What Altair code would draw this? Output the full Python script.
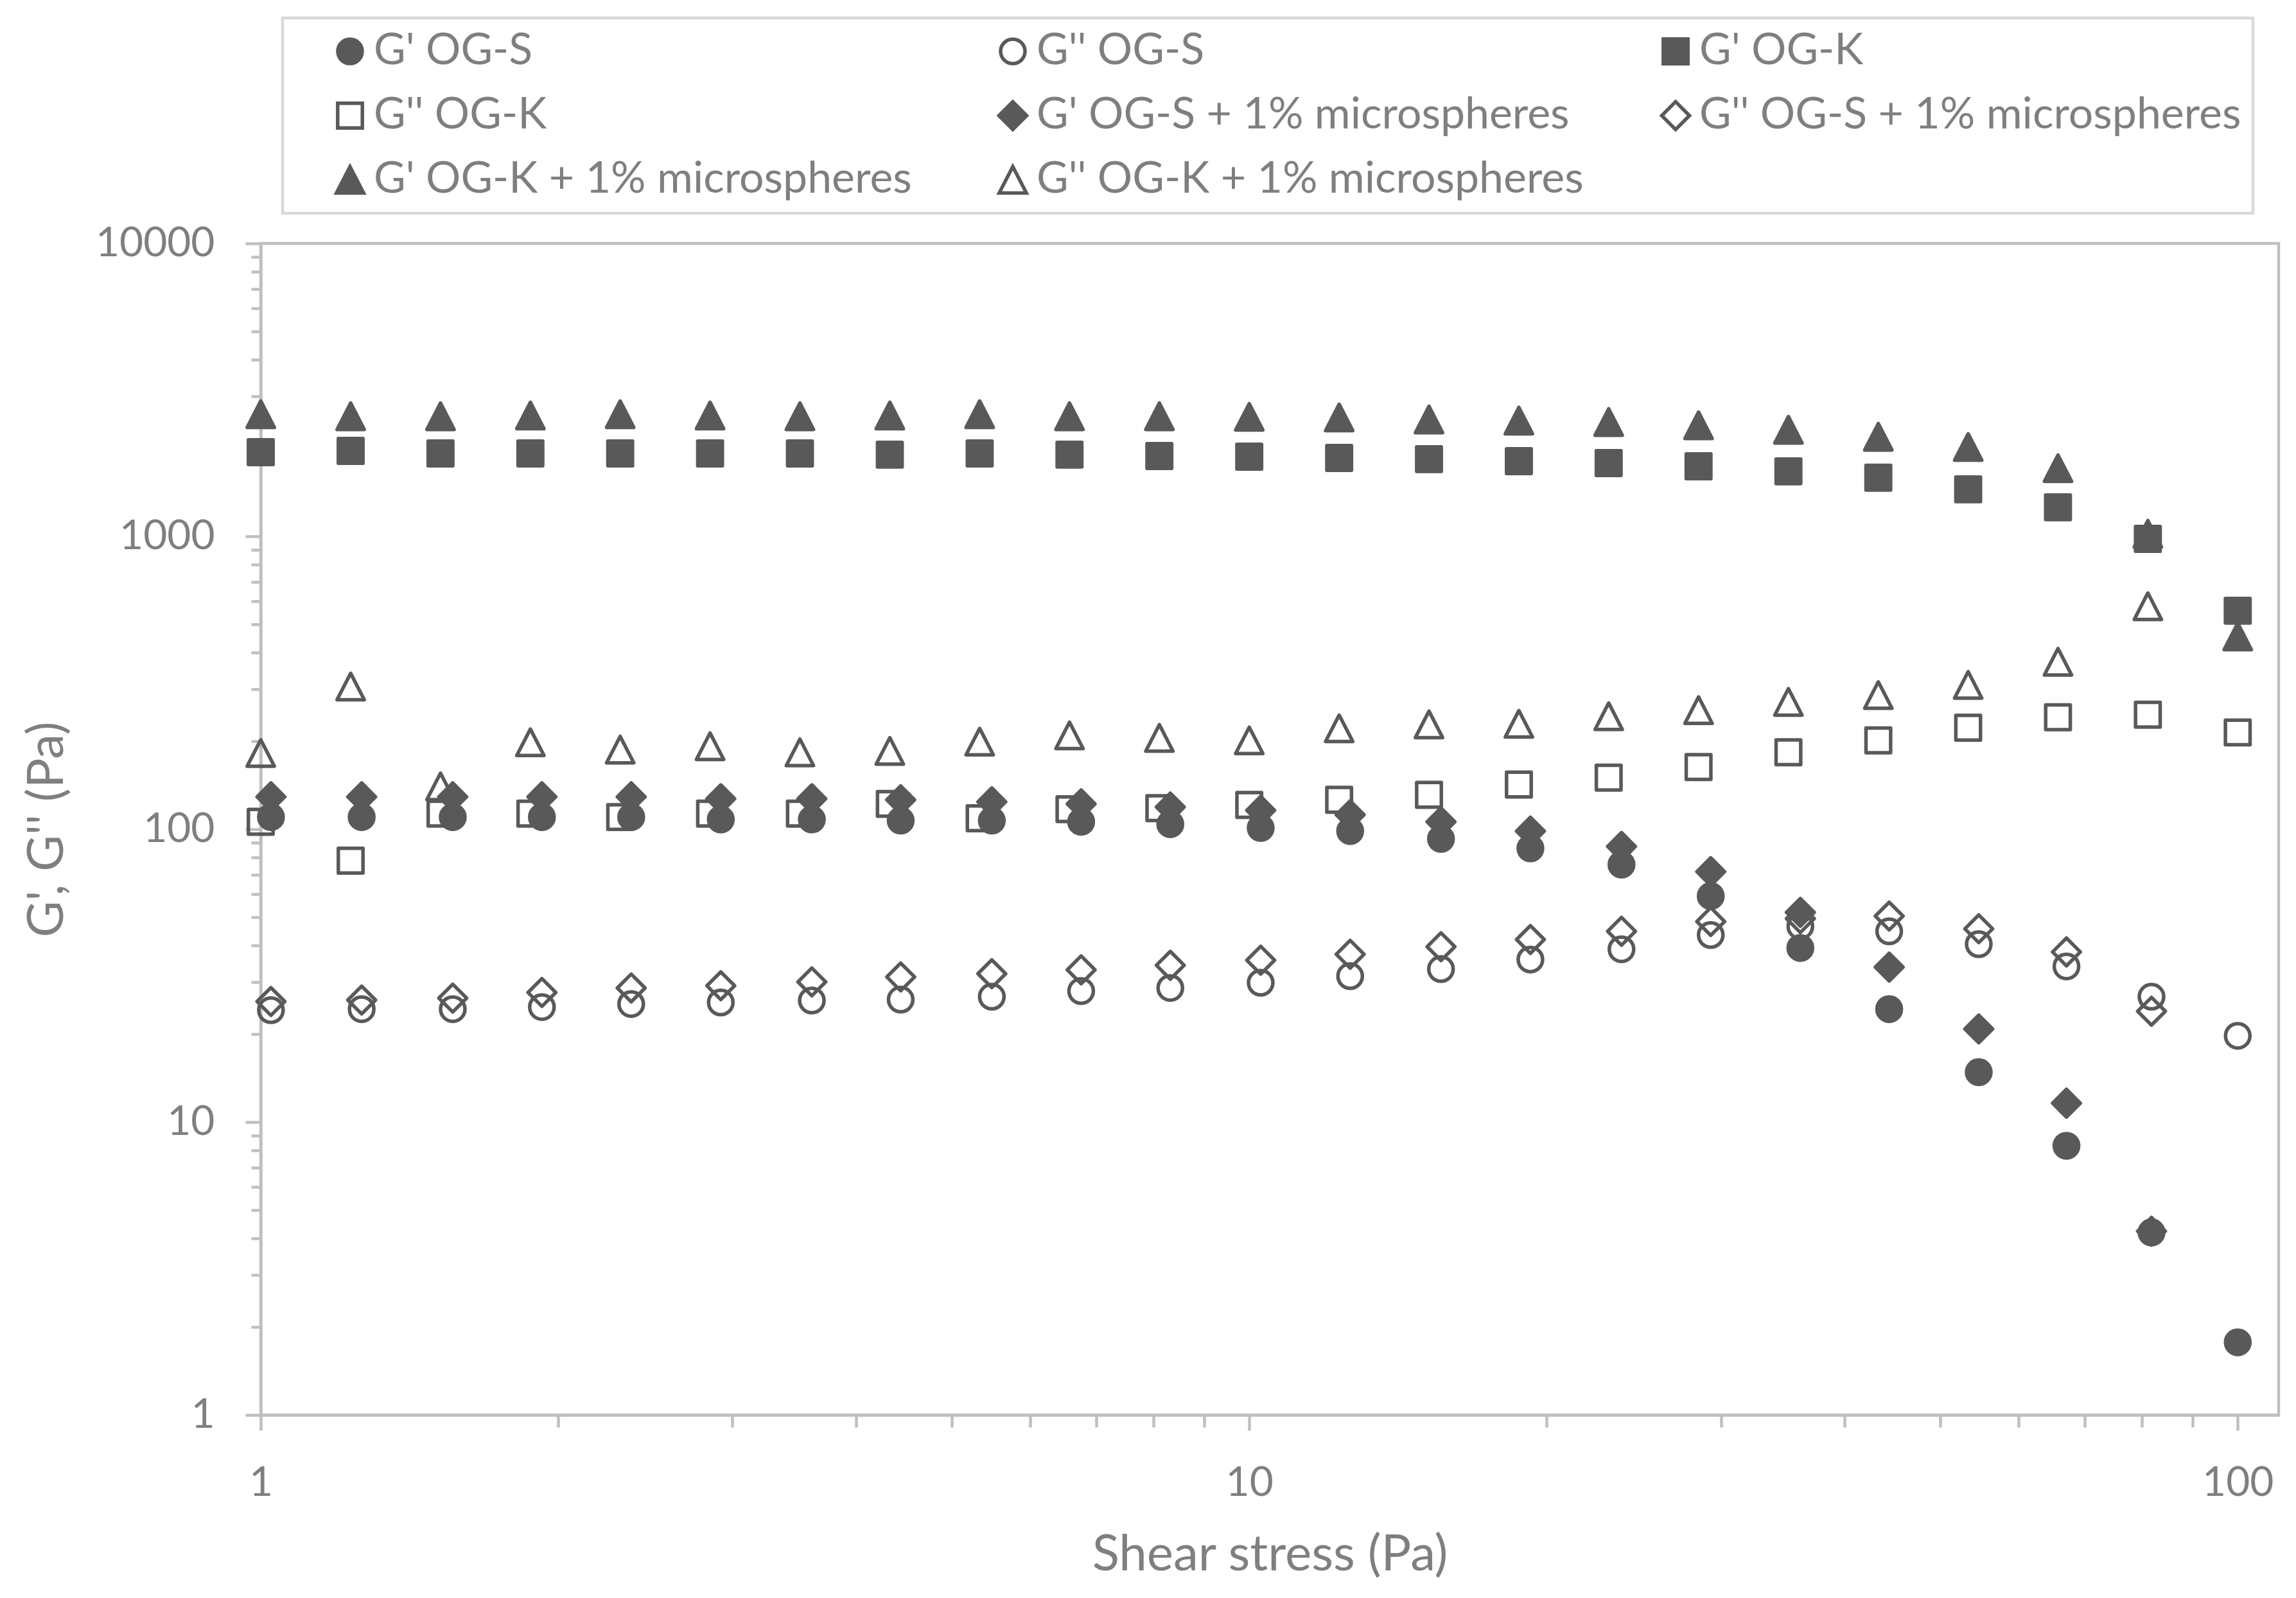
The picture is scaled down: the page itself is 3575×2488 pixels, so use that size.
import altair as alt
import pandas as pd

# ---------------- data ----------------
series_names = [
    "G' OG-S", "G'' OG-S", "G' OG-K", "G'' OG-K",
    "G' OG-S + 1% microspheres", "G'' OG-S + 1% microspheres",
    "G' OG-K + 1% microspheres", "G'' OG-K + 1% microspheres",
]

# shear stress values (Pa)
stress_k = [1, 1.233, 1.52, 1.874, 2.31, 2.848, 3.511, 4.329, 5.337, 6.579, 8.111, 10,
            12.33, 15.2, 18.74, 23.1, 28.48, 35.11, 43.29, 53.37, 65.79, 81.11, 100]
stress_s = [1.024, 1.265, 1.564, 1.925, 2.37, 2.92, 3.61, 4.44, 5.49, 6.76, 8.32, 10.27,
            12.65, 15.63, 19.25, 23.8, 29.3, 36.1, 44.4, 54.7, 67.1, 81.8, 100]

g1_og_s = [110, 110, 110, 110, 110, 108, 108, 107, 107, 106, 104, 101,
           98.5, 92.7, 86, 75.7, 59.1, 39.3, 24.3, 14.8, 8.3, 4.2, 1.77]
g2_og_s = [24.1, 24.3, 24.3, 24.7, 25.3, 25.6, 26.0, 26.2, 26.8, 28.0, 28.7, 29.9,
           31.5, 33.3, 35.9, 38.9, 43.5, 46.6, 44.8, 40.5, 34.0, 26.8, 19.7]
g1_og_k = [1937, 1958, 1918, 1918, 1918, 1918, 1918, 1900, 1918, 1900, 1880, 1871,
           1852, 1834, 1806, 1778, 1734, 1666, 1585, 1447, 1256, 980, 557]
g2_og_k = [106, 78.1, 113, 113, 110, 113, 113, 122, 109, 117, 118, 121,
           126, 131, 142, 150, 163, 183, 201, 222, 241, 246, 214]
g1_og_s_mic = [129, 129, 129, 129, 129, 127, 127, 126, 124, 122, 119, 116,
               112, 106, 98.5, 87.3, 71.6, 52.0, 33.8, 20.8, 11.6, 4.24]
g2_og_s_mic = [25.8, 26.1, 26.5, 27.7, 28.7, 29.2, 30.1, 31.3, 32.1, 33.1, 34.3, 35.7,
               37.4, 39.7, 42.0, 44.8, 48.4, 49.5, 50.5, 45.7, 38.1, 23.9]
g1_og_k_mic = [2612, 2570, 2570, 2585, 2612, 2585, 2570, 2585, 2612, 2570, 2570, 2558,
               2546, 2506, 2484, 2456, 2393, 2311, 2187, 2018, 1708, 1020, 455]
g2_og_k_mic = [182, 307, 140, 198, 187, 192, 183, 185, 199, 209, 205, 201,
               221, 228, 229, 243, 255, 272, 287, 311, 373, 577]

series_x = [stress_s, stress_s, stress_k, stress_k, stress_s, stress_s, stress_k, stress_k]
series_y = [g1_og_s, g2_og_s, g1_og_k, g2_og_k, g1_og_s_mic, g2_og_s_mic, g1_og_k_mic, g2_og_k_mic]

x_ticks = [1, 2, 3, 4, 5, 6, 7, 8, 9, 10, 20, 30, 40, 50, 60, 70, 80, 90, 100]
y_ticks = [1, 2, 3, 4, 5, 6, 7, 8, 9,
           10, 20, 30, 40, 50, 60, 70, 80, 90,
           100, 200, 300, 400, 500, 600, 700, 800, 900,
           1000, 2000, 3000, 4000, 5000, 6000, 7000, 8000, 9000, 10000]

rows = []
for name, xs, ys in zip(series_names, series_x, series_y):
    for xv, yv in zip(xs, ys):
        rows.append({"series": name, "stress": xv, "modulus": yv})
df = pd.DataFrame(rows)

# ---------------- styles ----------------
DARK = "#595959"
TEXT = "#7F7F7F"
AXIS = "#BFBFBF"
FONT = "Lato"
SW = 5.5

circle = "M0.95,0A0.95,0.95 0 1,1 -0.95,0A0.95,0.95 0 1,1 0.95,0Z"
square = "M-0.96,-0.96H0.96V0.96H-0.96Z"
diamond = "M0,-1.08L1.08,0L0,1.08L-1.08,0Z"
triangle = "M0,-1.03L1.06,1.03L-1.06,1.03Z"

shape_range = [circle, circle, square, square, diamond, diamond, triangle, triangle]
fill_range = [DARK, "transparent", DARK, "transparent", DARK, "transparent", DARK, "transparent"]
stroke_range = [DARK] * 8

legend = alt.Legend(
    title=None, orient="none", legendX=34, legendY=-351, direction="horizontal",
    columns=3, gridAlign="all", columnPadding=56, rowPadding=32,
    padding=18, symbolOffset=53, labelOffset=3, labelLimit=1500,
    labelFont=FONT, labelFontSize=68, labelColor=TEXT,
    symbolSize=1600, symbolStrokeWidth=SW, symbolStrokeColor=DARK, symbolOpacity=1,
)

major_test = "indexof([1, 10, 100, 1000, 10000], datum.value) >= 0"

x_axis = alt.Axis(
    values=x_ticks, format="d", labelExpr=f"{major_test} ? datum.label : ''",
    tickSize={"condition": {"test": major_test, "value": 24}, "value": 19},
    labelPadding=50, labelFlush=False, labelOverlap=False, labelBaseline="top", labelLimit=600,
    labelFont=FONT, labelFontSize=64, labelColor=TEXT,
    title="Shear stress (Pa)", titleFont=FONT, titleFontSize=78, titleFontWeight="normal",
    titleColor=TEXT, titleX=1571, titleY=218, titleBaseline="middle", titleAlign="center",
    grid=False, domainColor=AXIS, domainWidth=4.5, tickColor=AXIS, tickWidth=4.5,
)

y_axis = alt.Axis(
    values=y_ticks, format="d", labelExpr=f"{major_test} ? datum.label : ''",
    tickSize={"condition": {"test": major_test, "value": 24}, "value": 15},
    labelPadding=48, labelOverlap=False, labelFlush=False, labelLimit=600,
    labelFont=FONT, labelFontSize=64, labelColor=TEXT,
    title="G', G'' (Pa)", titleFont=FONT, titleFontSize=78, titleFontWeight="normal",
    titleColor=TEXT, titleX=-332, titleY=912, titleAngle=270,
    titleBaseline="middle", titleAlign="center",
    grid=False, domainColor=AXIS, domainWidth=4.5, tickColor=AXIS, tickWidth=4.5,
)

chart = alt.Chart(df).mark_point(
    size=1600, strokeWidth=SW, strokeJoin="round", opacity=1
).encode(
    x=alt.X("stress:Q", scale=alt.Scale(type="log", domain=[1, 110], nice=False), axis=x_axis),
    y=alt.Y("modulus:Q", scale=alt.Scale(type="log", domain=[1, 10000], nice=False), axis=y_axis),
    shape=alt.Shape("series:N", scale=alt.Scale(domain=series_names, range=shape_range), legend=legend),
    fill=alt.Fill("series:N", scale=alt.Scale(domain=series_names, range=fill_range), legend=legend),
    stroke=alt.Stroke("series:N", scale=alt.Scale(domain=series_names, range=stroke_range), legend=legend),
).properties(
    width=3142, height=1824,
    autosize=alt.AutoSizeParams(type="none"),
    padding={"left": 398, "top": 371, "right": 15, "bottom": 270},
    background="white",
).configure(
    font=FONT,
).configure_view(
    stroke=AXIS, strokeWidth=4.5,
).configure_legend(
    strokeColor="#D9D9D9", strokeWidth=4.5, fillColor="white",
)

chart.save("out.html", embed_options={"renderer": "svg", "actions": False})
